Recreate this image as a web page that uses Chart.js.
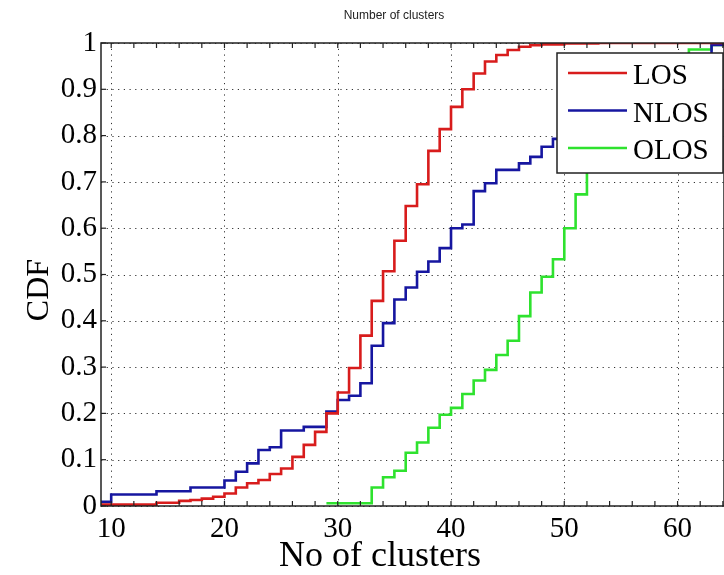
<!DOCTYPE html>
<html>
<head>
<meta charset="utf-8">
<script src="https://cdn.jsdelivr.net/npm/chart.js@4.4.0/dist/chart.umd.min.js"></script>
<style>
    html, body { margin: 0; padding: 0; background: #fff; }
</style>
</head>
<body>
<canvas id="GraficoCdf" width="724" height="575"></canvas>
<script>
/*Dados da CDF (degraus)*/
var titulo = 'Number of clusters';
var tituloX = 'No of clusters';
var tituloY = 'CDF';
var nomesSeries = ['LOS', 'NLOS', 'OLOS'];
var coresSeries = ['#d81c1c', '#1616a0', '#2ee22e'];

var losX = [5, 14, 16, 17, 18, 19, 20, 21, 22, 23, 24, 25, 26, 27, 28, 29, 30, 31, 32, 33, 34, 35, 36, 37, 38, 39, 40, 41, 42, 43, 44, 45, 46, 47, 48, 50, 53, 70];
var losY = [0.003, 0.007, 0.011, 0.013, 0.016, 0.020, 0.027, 0.040, 0.049, 0.056, 0.069, 0.081, 0.106, 0.132, 0.160, 0.200, 0.245, 0.298, 0.368, 0.443, 0.507, 0.573, 0.648, 0.695, 0.767, 0.814, 0.862, 0.900, 0.934, 0.960, 0.974, 0.985, 0.992, 0.995, 0.997, 0.999, 1.0, 1.0];

var nlosX = [5, 10, 14, 17, 20, 21, 22, 23, 24, 25, 27, 29, 30, 31, 32, 33, 34, 35, 36, 37, 38, 39, 40, 41, 42, 43, 44, 46, 47, 48, 49, 51, 53, 55, 57, 59, 61, 63, 70];
var nlosY = [0.009, 0.025, 0.032, 0.040, 0.055, 0.074, 0.092, 0.121, 0.127, 0.163, 0.171, 0.204, 0.229, 0.238, 0.265, 0.346, 0.395, 0.446, 0.472, 0.506, 0.528, 0.557, 0.600, 0.608, 0.680, 0.697, 0.726, 0.740, 0.754, 0.776, 0.793, 0.820, 0.850, 0.880, 0.910, 0.940, 0.965, 0.996, 0.996];

var olosX = [29, 33, 34, 35, 36, 37, 38, 39, 40, 41, 42, 43, 44, 45, 46, 47, 48, 49, 50, 51, 52, 53, 54, 55, 56, 57, 58, 59, 61, 63, 70];
var olosY = [0.006, 0.040, 0.062, 0.076, 0.115, 0.137, 0.169, 0.197, 0.212, 0.242, 0.271, 0.294, 0.326, 0.357, 0.410, 0.461, 0.495, 0.533, 0.600, 0.673, 0.750, 0.800, 0.840, 0.880, 0.910, 0.930, 0.950, 0.970, 0.986, 0.996, 0.996];

var xTicks = [10, 20, 30, 40, 50, 60];
var yTicks = [0, 0.1, 0.2, 0.3, 0.4, 0.5, 0.6, 0.7, 0.8, 0.9, 1];
var xMin = 9.1, xMax = 64.1;

var fonteSerif = "'Liberation Serif', 'Times New Roman', serif";

function MontarPontos(xs, ys) {
    return xs.map(function (x, i) { return { x: x, y: ys[i] }; });
}

/*Moldura estilo matlab: grade pontilhada, ticks para dentro, legenda e textos*/
var molduraMatlab = {
    id: 'molduraMatlab',
    beforeDatasetsDraw: function (chart) {
        var ctx = chart.ctx, a = chart.chartArea, sx = chart.scales.x, sy = chart.scales.y;
        ctx.save();
        ctx.strokeStyle = '#333';
        ctx.lineWidth = 1;
        ctx.setLineDash([1.2, 4.5]);
        sx.ticks.forEach(function (t) {
            var px = Math.round(sx.getPixelForValue(t.value)) + 0.5;
            ctx.beginPath(); ctx.moveTo(px, a.bottom); ctx.lineTo(px, a.top); ctx.stroke();
        });
        sy.ticks.forEach(function (t) {
            var py = Math.round(sy.getPixelForValue(t.value)) + 0.5;
            ctx.beginPath(); ctx.moveTo(a.left, py); ctx.lineTo(a.right, py); ctx.stroke();
        });
        ctx.restore();
    },
    afterDatasetsDraw: function (chart) {
        var ctx = chart.ctx, a = chart.chartArea, sx = chart.scales.x, sy = chart.scales.y;
        ctx.save();

        // moldura
        ctx.strokeStyle = '#222';
        ctx.lineWidth = 1.5;
        ctx.strokeRect(a.left, a.top, a.right - a.left, a.bottom - a.top);

        // ticks para dentro
        ctx.lineWidth = 1.2;
        for (var v = 10; v <= sx.max; v += 2) {
            var px = sx.getPixelForValue(v);
            ctx.beginPath(); ctx.moveTo(px, a.bottom); ctx.lineTo(px, a.bottom - 5); ctx.stroke();
            ctx.beginPath(); ctx.moveTo(px, a.top); ctx.lineTo(px, a.top + 5); ctx.stroke();
        }
        sy.ticks.forEach(function (t) {
            var py = sy.getPixelForValue(t.value);
            ctx.beginPath(); ctx.moveTo(a.left, py); ctx.lineTo(a.left + 5, py); ctx.stroke();
        });

        // legenda dentro do grafico
        var lw = 166, lh = 120;
        var lx = a.right - lw - 1, ly = a.top + 10;
        ctx.fillStyle = '#fff';
        ctx.fillRect(lx, ly, lw, lh);
        ctx.lineWidth = 1.5;
        ctx.strokeStyle = '#222';
        ctx.strokeRect(lx, ly, lw, lh);
        ctx.font = '29px ' + fonteSerif;
        ctx.textAlign = 'left';
        ctx.textBaseline = 'alphabetic';
        chart.data.datasets.forEach(function (ds, i) {
            var cy = ly + 20 + i * 37.5;
            ctx.strokeStyle = ds.borderColor;
            ctx.lineWidth = 2.5;
            ctx.beginPath(); ctx.moveTo(lx + 11, cy); ctx.lineTo(lx + 70, cy); ctx.stroke();
            ctx.fillStyle = '#000';
            ctx.fillText(ds.label, lx + 76, cy + 11);
        });

        // titulo e rotulos dos eixos
        ctx.fillStyle = '#222';
        ctx.textAlign = 'center';
        ctx.textBaseline = 'middle';
        ctx.font = "12px 'Liberation Sans', Arial, sans-serif";
        ctx.fillText(titulo, 394, 16);
        ctx.fillStyle = '#000';
        ctx.font = '36px ' + fonteSerif;
        ctx.fillText(tituloX, 380, 557);
        ctx.font = '32px ' + fonteSerif;
        ctx.translate(40, 290);
        ctx.rotate(-Math.PI / 2);
        ctx.fillText(tituloY, 0, 0);
        ctx.restore();
    }
};

var ctx = document.getElementById('GraficoCdf').getContext('2d');

var grafico = new Chart(ctx, {
    type: 'line',
    data: {
        datasets: [
            { label: nomesSeries[0], data: MontarPontos(losX, losY), borderColor: coresSeries[0] },
            { label: nomesSeries[1], data: MontarPontos(nlosX, nlosY), borderColor: coresSeries[1] },
            { label: nomesSeries[2], data: MontarPontos(olosX, olosY), borderColor: coresSeries[2] }
        ]
    },
    options: {
        responsive: false,
        animation: false,
        layout: { padding: { top: 43, right: 0, left: 0, bottom: 0 } },
        datasets: {
            line: { stepped: 'before', borderWidth: 2.6, pointRadius: 0, fill: false, tension: 0 }
        },
        plugins: {
            legend: { display: false },
            title: { display: false },
            tooltip: { enabled: false }
        },
        scales: {
            x: {
                type: 'linear',
                min: xMin,
                max: xMax,
                afterBuildTicks: function (scale) { scale.ticks = xTicks.map(function (v) { return { value: v }; }); },
                afterFit: function (scale) { scale.height = 69; },
                grid: { display: false, drawTicks: false },
                border: { display: false },
                ticks: { color: '#000', padding: 6, maxRotation: 0, font: { family: fonteSerif, size: 29 } }
            },
            y: {
                type: 'linear',
                min: 0,
                max: 1,
                afterBuildTicks: function (scale) { scale.ticks = yTicks.map(function (v) { return { value: v }; }); },
                afterFit: function (scale) { scale.width = 101; },
                grid: { display: false, drawTicks: false },
                border: { display: false },
                ticks: { color: '#000', padding: 4, font: { family: fonteSerif, size: 29 },
                    callback: function (v) { return String(Math.round(v * 10) / 10); } }
            }
        }
    },
    plugins: [molduraMatlab]
});
</script>
</body>
</html>
